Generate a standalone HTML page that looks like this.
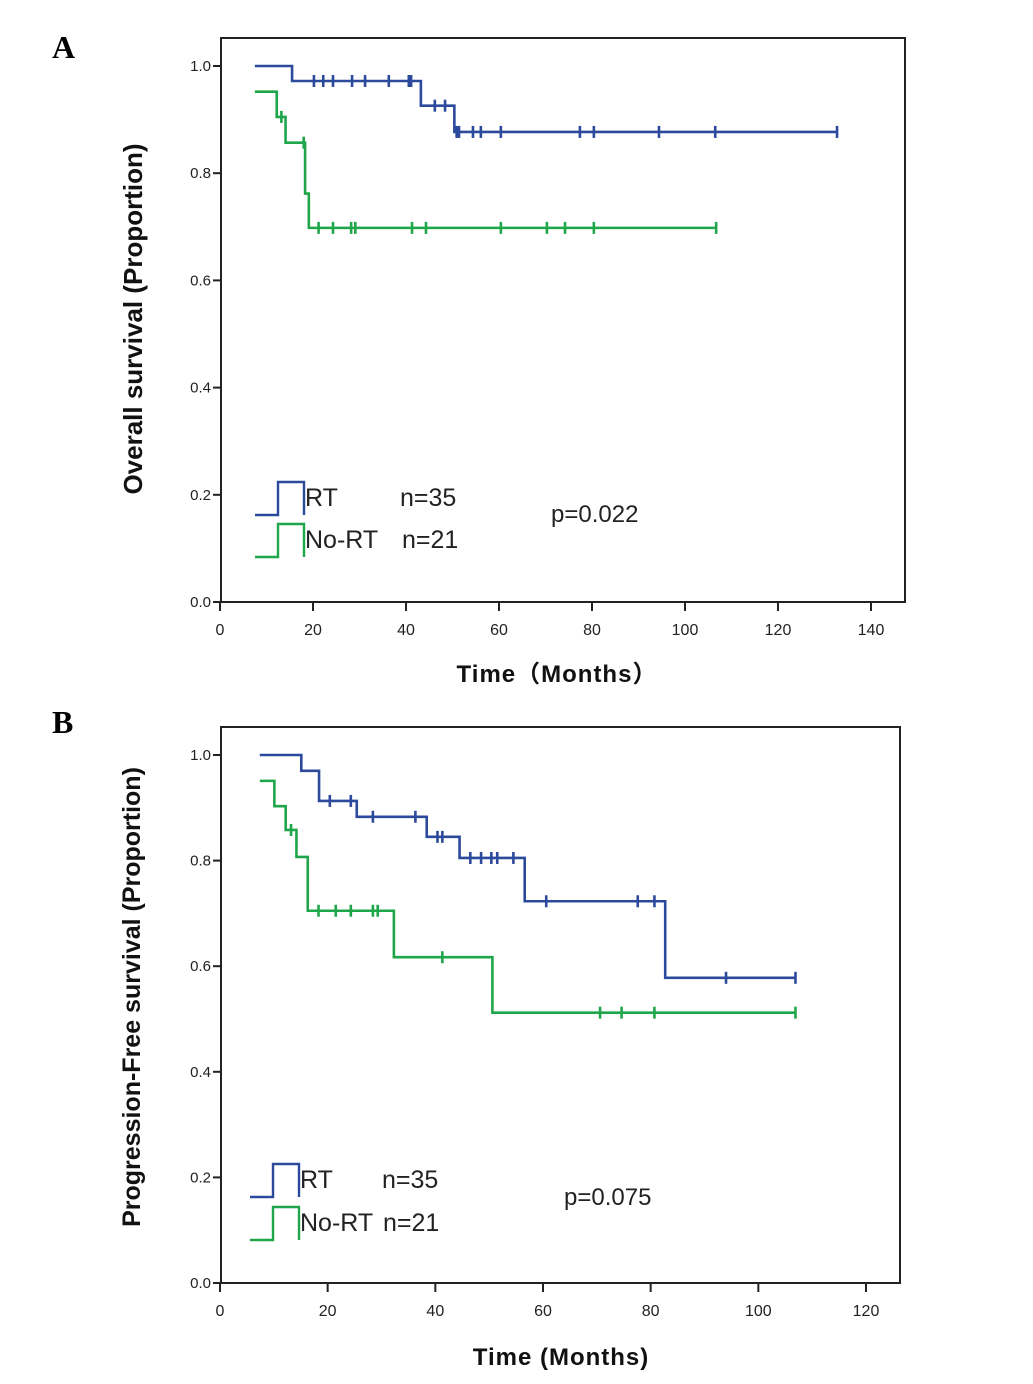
<!DOCTYPE html>
<html><head><meta charset="utf-8"><style>
body{margin:0;background:#fff;width:1033px;height:1379px;overflow:hidden}
svg text{font-family:"Liberation Sans","Noto Sans CJK SC",sans-serif}
</style></head><body>
<svg id="fig" width="1033" height="1379" viewBox="0 0 1033 1379" xmlns="http://www.w3.org/2000/svg">
<text x="52" y="58" font-size="32" font-weight="bold" style="font-family:'Liberation Serif',serif">A</text>
<text x="52" y="733" font-size="32" font-weight="bold" style="font-family:'Liberation Serif',serif">B</text>
</svg>
<script>
// Panel A data
const aRtSteps = [[7.5,1.0],[15.5,0.972],[43.2,0.926],[50.4,0.877]];
const aRtEnd = 132.7;
const aRtCensor = [20.2,22.2,24.3,28.4,31.2,36.3,40.6,41.1,46.2,48.4,50.9,51.4,54.4,56.1,60.4,77.4,80.4,94.4,106.5,132.7];
const aNoSteps = [[7.5,0.952],[12.2,0.905],[14.1,0.857],[18.3,0.762],[19.1,0.698]];
const aNoEnd = 106.7;
const aNoCensor = [13.2,18.0,21.2,24.3,28.2,29.1,41.3,44.3,60.4,70.3,74.2,80.4,106.7];
const aXTicks = [0,20,40,60,80,100,120,140];
const yTicks = ["0.0","0.2","0.4","0.6","0.8","1.0"];
// Panel B data
const bRtSteps = [[7.4,1.0],[15.1,0.97],[18.4,0.913],[25.4,0.883],[38.4,0.845],[44.5,0.805],[56.6,0.723],[82.7,0.578]];
const bRtEnd = 106.9;
const bRtCensor = [20.4,24.3,28.4,36.3,40.4,41.3,46.5,48.5,50.4,51.5,54.5,60.6,77.6,80.7,94.0,106.9];
const bNoSteps = [[7.4,0.951],[10.1,0.903],[12.2,0.858],[14.2,0.807],[16.3,0.705],[32.3,0.617],[50.6,0.512]];
const bNoEnd = 106.9;
const bNoCensor = [13.2,18.3,21.5,24.3,28.4,29.3,41.3,70.6,74.6,80.7,106.9];
const bXTicks = [0,20,40,60,80,100,120];

const NS="http://www.w3.org/2000/svg";
const svg=document.getElementById('fig');
function mk(tag,attrs,parent){const e=document.createElementNS(NS,tag);for(const k in attrs)e.setAttribute(k,attrs[k]);(parent||svg).appendChild(e);return e;}
const BLUE="#2c4a9c", GREEN="#1fa64a";

function panel(p){
  const g=mk('g',{});
  
  
  const X=t=>p.x0+t*(p.x1-p.x0)/p.xMax;
  const Y=s=>p.y0-s*(p.y0-p.y1);
  const box=mk('rect',{x:p.bx0,y:p.by0,width:p.bx1-p.bx0,height:p.by1-p.by0,fill:'none',stroke:'#222','stroke-width':2},g);
  
  
  yTicks.forEach(l=>{
    const v=parseFloat(l);
    mk('line',{x1:p.bx0-8,x2:p.bx0,y1:Y(v),y2:Y(v),stroke:'#222','stroke-width':2},g);
    const t=mk('text',{x:p.bx0-10,y:Y(v)+5,'font-size':15,'text-anchor':'end',fill:'#222'},g);
    t.textContent=l;
    
    
  });
  p.xTicks.forEach(v=>{
    mk('line',{x1:X(v),x2:X(v),y1:p.by1,y2:p.by1+9,stroke:'#222','stroke-width':2},g);
    const t=mk('text',{x:X(v),y:p.by1+33,'font-size':16,'text-anchor':'middle',fill:'#222'},g);
    t.textContent=v;
    
    
  });
  const xt=mk('text',{x:p.xtX,y:p.xtY,'font-size':24,'font-weight':'bold','text-anchor':'middle',fill:'#111','letter-spacing':1},g);
  xt.textContent=p.xTitle;
  
  
  const yt=mk('text',{x:0,y:0,'font-size':p.ytSize,'font-weight':'bold','text-anchor':'middle',fill:'#111',transform:`translate(${p.ytX},${p.ytY}) rotate(-90)`},g);
  yt.textContent=p.yTitle;
  
  
  function curve(steps,end,cens,col,nm){
    let d=`M${X(steps[0][0])},${Y(steps[0][1])}`;
    for(let i=1;i<steps.length;i++){d+=` H${X(steps[i][0])} V${Y(steps[i][1])}`;}
    d+=` H${X(end)}`;
    const path=mk('path',{d:d,fill:'none',stroke:col,'stroke-width':2.6},g);
    
    
    cens.forEach(t=>{
      let s=steps[0][1];
      steps.forEach(st=>{if(st[0]<=t)s=st[1];});
      const c=mk('line',{x1:X(t),x2:X(t),y1:Y(s)-6,y2:Y(s)+6,stroke:col,'stroke-width':2.6},g);
      
      
    });
  }
  curve(p.rtSteps,p.rtEnd,p.rtCensor,BLUE,'rt');
  curve(p.noSteps,p.noEnd,p.noCensor,GREEN,'no-rt');
  const L=p.leg;
  [[BLUE,L.y1,'RT',L.n1x,'n=35','legend-rt'],[GREEN,L.y2,'No-RT',L.n2x,'n=21','legend-no-rt']].forEach(r=>{
    const lg=mk('g',{},g);
    
    
    mk('path',{d:`M${L.x0},${r[1]} H${L.x0+23} V${r[1]-33} H${L.x0+49} V${r[1]}`,fill:'none',stroke:r[0],'stroke-width':2.4},lg);
    const a=mk('text',{x:L.x0+50,y:r[1]-9,'font-size':25,fill:'#222'},lg);a.textContent=r[2];
    const b=mk('text',{x:r[3],y:r[1]-9,'font-size':25,fill:'#222'},lg);b.textContent=r[4];
  });
  const pv=mk('text',{x:L.px,y:L.py,'font-size':24,fill:'#222'},g);
  pv.textContent=L.p;
  
  
}
panel({name:'panel-a-overall-survival',x0:220,x1:871,xMax:140,y0:602,y1:66,bx0:221,bx1:905,by0:38,by1:602,xTicks:aXTicks,
  xTitle:'Time（Months）',xtX:557,xtY:682,yTitle:'Overall survival (Proportion)',ytX:142,ytY:319,ytSize:26,
  rtSteps:aRtSteps,rtEnd:aRtEnd,rtCensor:aRtCensor,noSteps:aNoSteps,noEnd:aNoEnd,noCensor:aNoCensor,
  leg:{x0:255,y1:515,y2:557,n1x:400,n2x:402,px:551,py:522,p:'p=0.022'}});
panel({name:'panel-b-progression-free-survival',x0:220,x1:866,xMax:120,y0:1283,y1:755,bx0:221,bx1:900,by0:727,by1:1283,xTicks:bXTicks,
  xTitle:'Time (Months)',xtX:561,xtY:1365,yTitle:'Progression-Free survival (Proportion)',ytX:140,ytY:997,ytSize:25,
  rtSteps:bRtSteps,rtEnd:bRtEnd,rtCensor:bRtCensor,noSteps:bNoSteps,noEnd:bNoEnd,noCensor:bNoCensor,
  leg:{x0:250,y1:1197,y2:1240,n1x:382,n2x:383,px:564,py:1205,p:'p=0.075'}});
</script>
</body></html>
